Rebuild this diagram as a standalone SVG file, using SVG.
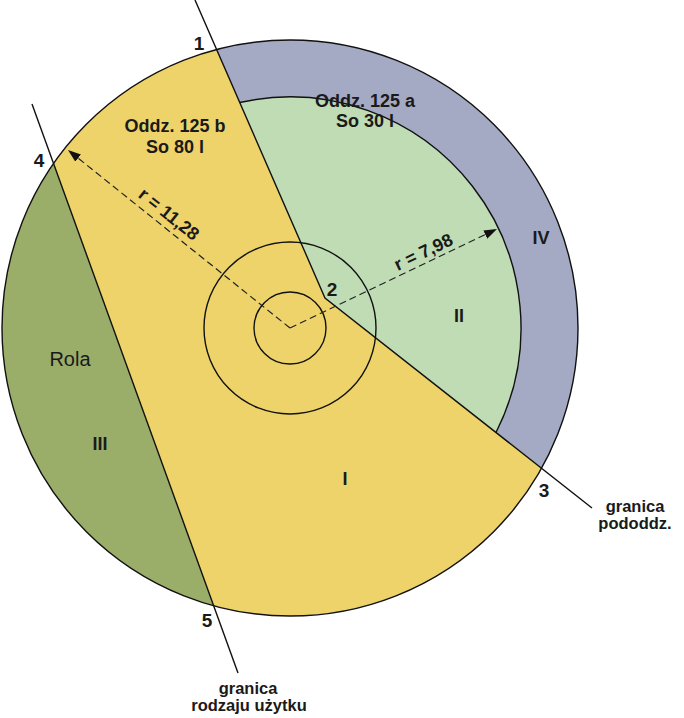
<svg xmlns="http://www.w3.org/2000/svg" width="684" height="718" viewBox="0 0 684 718">
<style>
.t{font-family:"Liberation Sans",Arial,sans-serif;font-weight:bold;fill:#1a1a1a;text-anchor:middle}
.lb{font-size:18px}
.nm{font-size:19px}
.sm{font-size:16.5px}
.ln{fill:none;stroke:#111;stroke-width:1.4}
.dash{fill:none;stroke:#222;stroke-width:1.2;stroke-dasharray:7 4}
</style>
<defs>
<marker id="arr" markerUnits="userSpaceOnUse" markerWidth="14" markerHeight="10" refX="13" refY="5" orient="auto">
<path d="M0,0.5 L13,5 L0,9.5 z" fill="#111"/>
</marker>
</defs>
<rect width="684" height="718" fill="#fff"/>
<g id="yellow-area">
<circle cx="290" cy="328" r="288" fill="#edd36a"/>
</g>
<g id="area-III">
<path d="M53.6,163.6 A288,288 0 0 0 213.6,605.7 Z" fill="#9aae6a"/>
</g>
<g id="area-IV">
<path d="M216.6,49.5 A288,288 0 0 1 541.5,468.3 L325,298 Z" fill="#a4a9c4"/>
</g>
<g id="area-II">
<path d="M239.7,102.5 A231,231 0 0 1 496,432.5 L325,298 Z" fill="#bfdcb4"/>
<path d="M239.7,102.5 A231,231 0 0 1 496,432.5" class="ln"/>
</g>
<g id="outer-circle">
<circle cx="290" cy="328" r="288" class="ln" stroke-width="1.6"/>
</g>
<g id="plot-circles">
<circle cx="290" cy="328" r="86" class="ln" stroke-width="1.6"/>
<circle cx="290" cy="328" r="36" class="ln" stroke-width="1.6"/>
</g>
<g id="connectors">
<polyline points="195,0 325,298 592,508" class="ln"/>
<line x1="32" y1="104" x2="238" y2="673" class="ln"/>
<line x1="290" y1="328" x2="68" y2="150" class="dash" marker-end="url(#arr)"/>
<line x1="290" y1="328" x2="497" y2="229" class="dash" marker-end="url(#arr)"/>
</g>
<g id="labels">
<text class="t lb" x="175" y="132">Oddz. 125 b</text>
<text class="t lb" x="175" y="153">So 80 l</text>
<text class="t lb" x="365" y="107">Oddz. 125 a</text>
<text class="t lb" x="365" y="127">So 30 l</text>
<text class="t lb" transform="translate(160.7,224.4) rotate(38.7)" x="0" y="-7">r = 11,28</text>
<text class="t lb" transform="translate(428.2,262) rotate(-25.6)" x="0" y="-5">r = 7,98</text>
<text class="t lb" x="459" y="322">II</text>
<text class="t lb" x="541" y="244">IV</text>
<text class="t lb" x="100" y="450">III</text>
<text class="t lb" x="345" y="485">I</text>
<text x="70" y="366" style="font-family:'Liberation Sans',Arial,sans-serif;font-size:20px;fill:#1a1a1a;text-anchor:middle">Rola</text>
<text class="t nm" x="199" y="50">1</text>
<text class="t nm" x="332" y="296">2</text>
<text class="t nm" x="544" y="497">3</text>
<text class="t nm" x="39" y="167">4</text>
<text class="t nm" x="207" y="627">5</text>
<text class="t sm" x="635" y="512">granica</text>
<text class="t sm" x="635" y="529">pododdz.</text>
<text class="t sm" x="248" y="694">granica</text>
<text class="t sm" x="249" y="711">rodzaju użytku</text>
</g>
</svg>
